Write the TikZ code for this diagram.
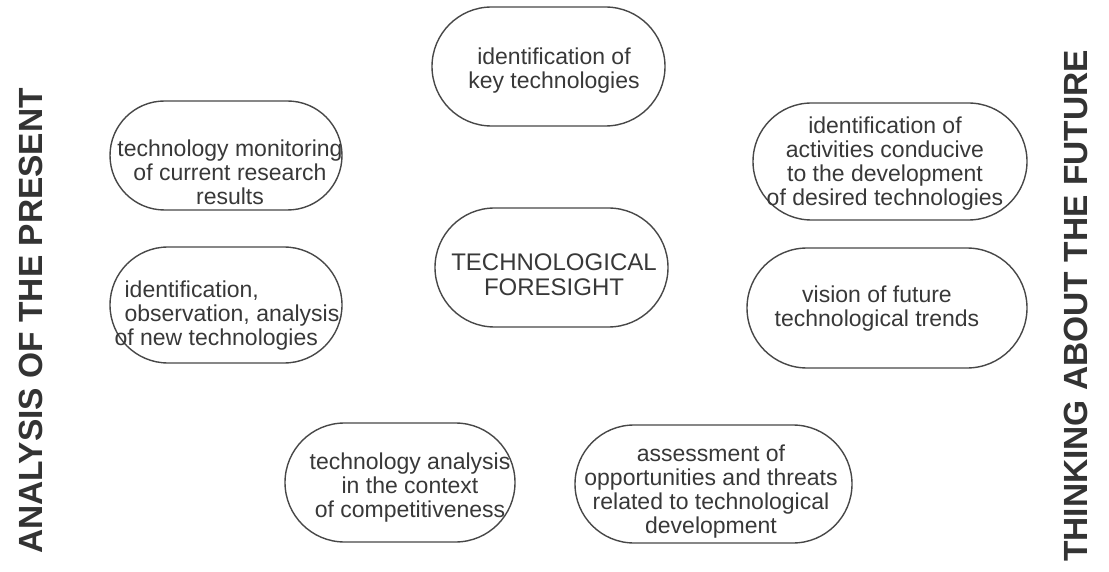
\documentclass[tikz,border=0pt]{standalone}
\usepackage{fontspec}
\setmainfont{Liberation Sans}
\usetikzlibrary{shapes.misc}
\begin{document}
\begin{tikzpicture}[x=1pt,y=-1pt,
  pill/.style={rounded rectangle, draw=black!72, line width=1.4pt, inner sep=0pt},
  boxtext/.style={text=black!78, align=center, inner sep=0pt, font=\fontsize{23}{24}\selectfont},
  sidetitle/.style={text=black!80, inner sep=0pt, rotate=90, font=\bfseries\fontsize{33.5}{36}\selectfont}]
\useasboundingbox (0,0) rectangle (1109,572);
% boxes
\node[pill, minimum width=233pt, minimum height=119pt] (b1) at (548.5,66.5) {};
\node[pill, minimum width=232pt, minimum height=109pt] (b2) at (226,155.5) {};
\node[pill, minimum width=274pt, minimum height=117pt] (b3) at (890,161.5) {};
\node[pill, minimum width=233pt, minimum height=119pt] (b4) at (551.5,267.5) {};
\node[pill, minimum width=232pt, minimum height=116pt] (b5) at (226,305) {};
\node[pill, minimum width=280pt, minimum height=120pt] (b6) at (887,308) {};
\node[pill, minimum width=230pt, minimum height=119pt] (b7) at (400,482.5) {};
\node[pill, minimum width=277pt, minimum height=118pt] (b8) at (713.5,484) {};
% texts
\node[boxtext] (t1) at (554,71) {identification of\\key technologies};
\node[boxtext] (t2) at (230,172) {technology monitoring\\of current research\\results};
\node[boxtext] (t3) at (885,164) {identification of\\activities conducive\\to the development\\of desired technologies};
\node[boxtext, font=\fontsize{24}{25}\selectfont] (t4) at (554,275) {TECHNOLOGICAL\\FORESIGHT};
\node[boxtext, align=left] (t5) at (232,316) {identification,\\observation, analysis\\\hspace*{-10pt}of new technologies};
\node[boxtext] (t6) at (877,309) {vision of future\\technological trends};
\node[boxtext] (t7) at (410,488) {technology analysis\\in the context\\of competitiveness};
\node[boxtext] (t8) at (711,492) {assessment of\\opportunities and threats\\related to technological\\development};
% side titles
\node[sidetitle] (left) at (31,321) {ANALYSIS OF THE PRESENT};
\node[sidetitle] (right) at (1076,306) {THINKING ABOUT THE FUTURE};
\end{tikzpicture}
\end{document}
